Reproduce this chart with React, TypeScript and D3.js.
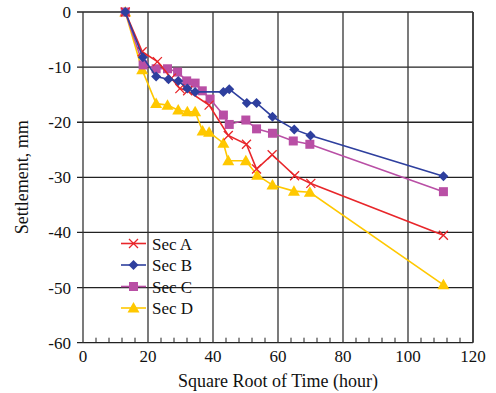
import React from "react";
import * as d3 from "d3";

const xTicks = [0, 20, 40, 60, 80, 100, 120];
const yTicks = [0, -10, -20, -30, -40, -50, -60];

const secAx = [13, 18.2, 22.9, 27.2, 29.8, 32.2, 38.8, 44.7, 50.3, 53.4, 58.2, 65.1, 70.1, 110.9];
const secAy = [0, -7.2, -9.0, -12.0, -13.9, -14.3, -16.9, -22.4, -24.0, -28.5, -25.9, -29.7, -31.1, -40.5];

const secBx = [13, 18.4, 22.5, 26.3, 29.3, 32.1, 34.5, 43.2, 45.0, 50.4, 53.4, 58.3, 65.0, 70.0, 110.9];
const secBy = [0, -8.2, -11.7, -12.2, -12.5, -13.9, -14.5, -14.5, -14.0, -16.5, -16.5, -19.0, -21.3, -22.4, -29.8];

const secCx = [13, 18.5, 22.5, 26.0, 29.1, 31.9, 34.5, 36.7, 39.1, 43.2, 45.0, 50.1, 53.4, 58.3, 64.7, 69.8, 110.9];
const secCy = [0, -9.6, -10.3, -10.3, -10.9, -12.5, -12.9, -14.3, -15.8, -18.7, -20.4, -19.6, -21.2, -22.0, -23.4, -24.0, -32.6];

const secDx = [13, 18.2, 22.5, 26.0, 29.3, 32.1, 34.5, 36.8, 38.8, 43.2, 44.7, 50.1, 53.6, 58.3, 64.9, 69.8, 110.9];
const secDy = [0, -10.5, -16.6, -16.9, -17.8, -18.1, -18.1, -21.6, -21.8, -23.8, -27.0, -27.0, -29.6, -31.4, -32.5, -32.7, -49.5];

const seriesNames = ["Sec A", "Sec B", "Sec C", "Sec D"];
const colors = ["#e8262a", "#2e3f9e", "#b94fa5", "#ffc800"];
const markers = ["x", "diamond", "square", "triangle"];

const X0 = 83, X1 = 473, Y0 = 12, Y1 = 342.7;

function Marker({ kind, x, y, color }: { kind: string; x: number; y: number; color: string }) {
  if (kind === "x") {
    const s = 4.5;
    return (
      <path d={`M${x - s},${y - s}L${x + s},${y + s}M${x - s},${y + s}L${x + s},${y - s}`} stroke={color} strokeWidth={1.3} fill="none" />
    );
  }
  if (kind === "diamond") {
    const s = 5;
    return <path d={`M${x},${y - s}L${x + s},${y}L${x},${y + s}L${x - s},${y}Z`} fill={color} />;
  }
  if (kind === "square") {
    const s = 4.5;
    return <rect x={x - s} y={y - s} width={2 * s} height={2 * s} fill={color} />;
  }
  const s = 6;
  return <path d={`M${x},${y - s}L${x + s},${y + s * 0.75}L${x - s},${y + s * 0.75}Z`} fill={color} />;
}

export default function App() {
  const xs = d3.scaleLinear().domain([0, 120]).range([X0, X1]);
  const ys = d3.scaleLinear().domain([0, -60]).range([Y0, Y1]);
  const series = [
    [secAx, secAy],
    [secBx, secBy],
    [secCx, secCy],
    [secDx, secDy],
  ].map(([xa, ya]) => xa.map((v, i) => [v, ya[i]] as [number, number]));
  const line = d3.line<[number, number]>().x((d) => xs(d[0])).y((d) => ys(d[1]));
  const minor = d3.range(0, 121, 4).filter((v) => v % 20 !== 0);
  const font = "'Liberation Serif', 'Times New Roman', serif";
  const drawOrder = [3, 2, 0, 1];

  return (
    <svg width={496} height={393} style={{ position: "absolute", left: 0, top: 0 }} fontFamily={font}>
      <rect width={496} height={393} fill="#fff" />
      {yTicks.map((t) => (
        <line key={"hy" + t} x1={X0 - 6} x2={X1} y1={ys(t)} y2={ys(t)} stroke="#222" strokeWidth={1.3} />
      ))}
      {xTicks.map((t) => (
        <line key={"vx" + t} x1={xs(t)} x2={xs(t)} y1={Y0} y2={Y1} stroke="#333" strokeWidth={t === 120 ? 1.8 : 1.3} />
      ))}
      {minor.map((t) => (
        <line key={"mx" + t} x1={xs(t)} x2={xs(t)} y1={Y1 - 5} y2={Y1} stroke="#222" strokeWidth={1} />
      ))}
      {yTicks.map((t) => (
        <text key={"ty" + t} x={71} y={ys(t) + 6} textAnchor="end" fontSize={17} fill="#111">
          {t}
        </text>
      ))}
      {xTicks.map((t) => (
        <text key={"tx" + t} x={xs(t)} y={362} textAnchor="middle" fontSize={17} fill="#111">
          {t}
        </text>
      ))}
      <text x={xs(60)} y={387} textAnchor="middle" fontSize={18} fill="#111">
        Square Root of Time (hour)
      </text>
      <text transform={`translate(28,${(Y0 + Y1) / 2}) rotate(-90)`} textAnchor="middle" fontSize={18} fill="#111">
        Settlement, mm
      </text>
      {drawOrder.map((si) => (
        <g key={"s" + si}>
          <path d={line(series[si]) || ""} fill="none" stroke={colors[si]} strokeWidth={1.6} />
          {series[si].map((d, i) => (
            <Marker key={i} kind={markers[si]} x={xs(d[0])} y={ys(d[1])} color={colors[si]} />
          ))}
        </g>
      ))}
      {seriesNames.map((n, i) => {
        const y = 243.5 + i * 21.5;
        return (
          <g key={"lg" + n}>
            <line x1={121} x2={146} y1={y} y2={y} stroke={colors[i]} strokeWidth={1.6} />
            <Marker kind={markers[i]} x={133.5} y={y} color={colors[i]} />
            <text x={152} y={y + 6} fontSize={17} fill="#111">
              {n}
            </text>
          </g>
        );
      })}
    </svg>
  );
}
